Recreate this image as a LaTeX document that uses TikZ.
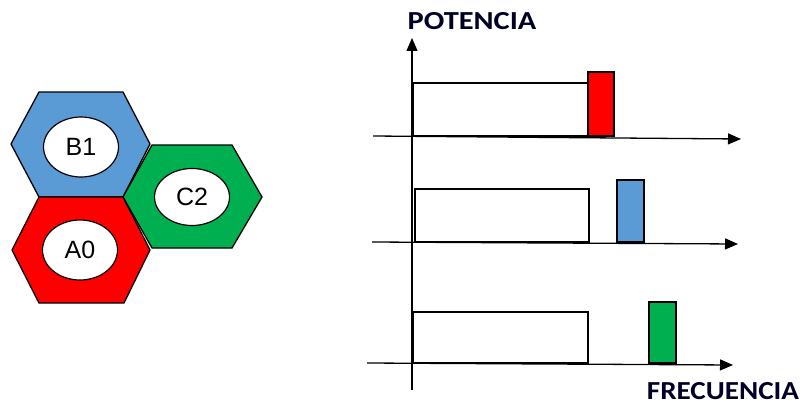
\documentclass[tikz,border=0pt]{standalone}
\usepackage{fontspec}
\usepackage{graphicx}
\setmainfont{Liberation Sans}
\newfontfamily\calibrifont{Carlito}
\usetikzlibrary{arrows.meta,shapes.geometric}
\definecolor{hexblue}{HTML}{5B9BD5}
\definecolor{hexred}{HTML}{FF0000}
\definecolor{hexgreen}{HTML}{00B050}
\tikzset{
  hexcell/.style={draw=black, line width=1.3pt, line join=miter},
  cellname/.style={ellipse, draw=black, line width=1.2pt, fill=white, minimum width=75pt, minimum height=60pt, inner sep=0pt, font=\fontsize{25}{25}\selectfont},
  axisline/.style={draw=black, line width=1.3pt, -{Triangle[length=13pt,width=11pt]}},
  band/.style={draw=black, line width=1.1pt},
  axislabel/.style={font=\calibrifont\bfseries\fontsize{26}{26}\selectfont, anchor=base, inner sep=0pt, text=black!85!blue}
}
\begin{document}
\begin{tikzpicture}[x=1pt,y=-1pt]
\useasboundingbox (0,0) rectangle (805,404);
% hexagons
\filldraw[hexcell, fill=hexblue] (11,144) -- (39,92) -- (123,92) -- (150,144) -- (123,197) -- (39,197) -- cycle;
\filldraw[hexcell, fill=hexgreen] (123,197) -- (152,145) -- (232,145) -- (262,197) -- (232,248) -- (152,248) -- cycle;
\filldraw[hexcell, fill=hexred] (12,250) -- (39,197) -- (123,197) -- (150,250) -- (124,303) -- (39,303) -- cycle;
\node[cellname] (b1) at (81,147) {B1};
\node[cellname, minimum height=57pt] (c2) at (192,197) {C2};
\node[cellname] (a0) at (80,250) {A0};
% axes
\coordinate (vbot) at (412,390);
\coordinate (vtop) at (412,38);
\draw[axisline] (vbot) -- (vtop);
\coordinate (h1s) at (373,136); \coordinate (h1e) at (741,139);
\coordinate (h2s) at (372,242); \coordinate (h2e) at (738,244);
\coordinate (h3s) at (367,363); \coordinate (h3e) at (733,365);
% bands
\draw[band] (413,136) rectangle (588,83);
\filldraw[band, fill=hexred] (588,136) rectangle (614,72);
\draw[band] (415,242) rectangle (589,189);
\filldraw[band, fill=hexblue] (617,242) rectangle (644,180);
\draw[band] (413,363) rectangle (588,312);
\filldraw[band, fill=hexgreen] (649,363) rectangle (676,302);
\draw[axisline] (h1s) -- (h1e);
\draw[axisline] (h2s) -- (h2e);
\draw[axisline] (h3s) -- (h3e);
% labels
\node[axislabel] (pot) at (472,30) {\scalebox{1.17}[1]{POTENCIA}};
\node[axislabel] (freq) at (723,399) {\scalebox{1.12}[1]{FRECUENCIA}};
\end{tikzpicture}
\end{document}
